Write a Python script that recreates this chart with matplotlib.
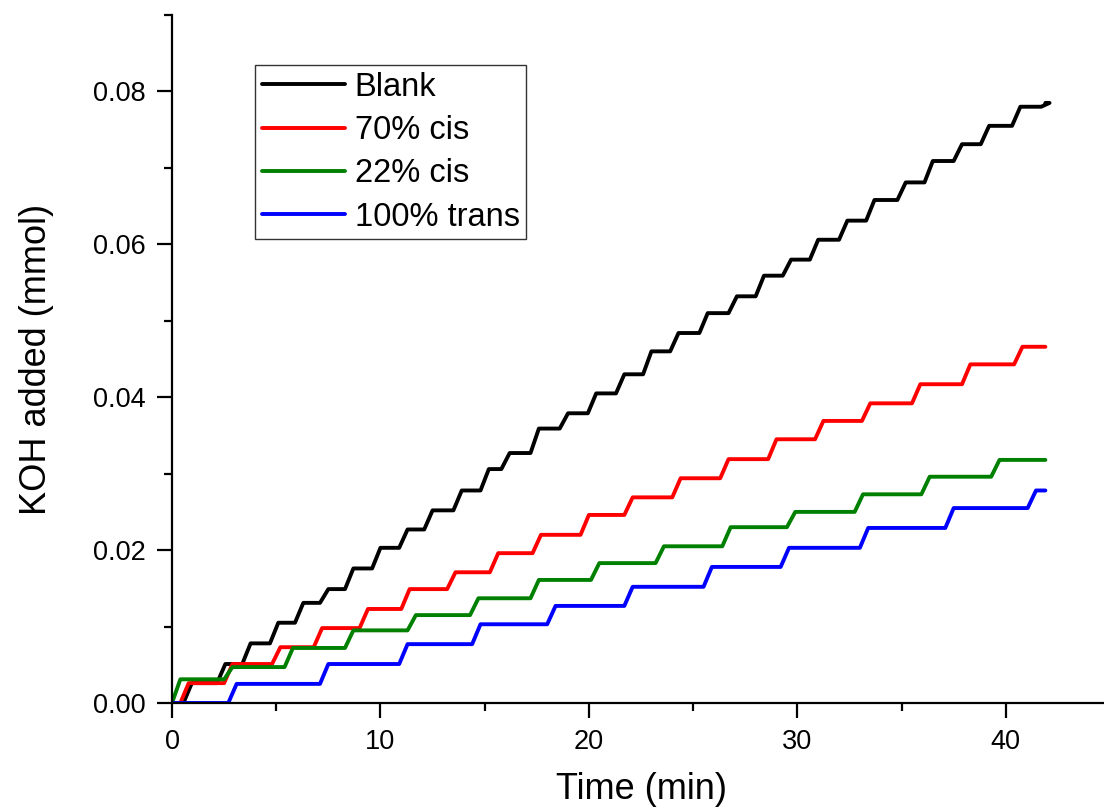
import matplotlib
matplotlib.use("Agg")
import matplotlib.pyplot as plt
from matplotlib.ticker import MultipleLocator, FormatStrFormatter

plt.rcParams['font.family'] = ['Liberation Sans', 'DejaVu Sans']

# Titrace KOH - časy skoků (min) a hladiny plató (mmol)
t_end = 41.9

blank_t = [0.55, 2.16, 3.37, 4.7, 5.9, 7.1, 8.3, 9.6, 10.9, 12.1, 13.5, 14.8, 15.8, 17.2,
           18.6, 19.95, 21.3, 22.6, 23.9, 25.3, 26.7, 28.0, 29.3, 30.6, 32.0, 33.3, 34.8,
           36.1, 37.5, 38.8, 40.3, 41.7]
blank_v = [0.0026, 0.0051, 0.0078, 0.0105, 0.0131, 0.0149, 0.0176, 0.0203, 0.0227, 0.0252,
           0.0278, 0.0306, 0.0327, 0.0359, 0.0379, 0.0405, 0.0430, 0.0460, 0.0484, 0.0510,
           0.0532, 0.0559, 0.0580, 0.0606, 0.0631, 0.0658, 0.0681, 0.0709, 0.0731, 0.0755,
           0.0780, 0.0785]

cis70_t = [0.4, 2.5, 4.8, 6.8, 9.0, 11.0, 13.2, 15.25, 17.3, 19.6, 21.7, 24.0, 26.3, 28.6,
           30.85, 33.1, 35.5, 37.9, 40.4]
cis70_v = [0.0026, 0.0051, 0.0073, 0.0098, 0.0123, 0.0149, 0.0171, 0.0196, 0.0220, 0.0246,
           0.0269, 0.0294, 0.0319, 0.0345, 0.0369, 0.0392, 0.0417, 0.0443, 0.0466]

cis22_t = [0.0, 2.5, 5.4, 8.3, 11.3, 14.3, 17.2, 20.1, 23.2, 26.4, 29.5, 32.75, 35.95, 39.3]
cis22_v = [0.0031, 0.0047, 0.0072, 0.0095, 0.0115, 0.0137, 0.0161, 0.0183, 0.0205, 0.0230,
           0.0250, 0.0273, 0.0296, 0.0318]

trans_t = [2.7, 7.1, 10.9, 14.4, 18.0, 21.7, 25.5, 29.2, 33.0, 37.1, 41.05]
trans_v = [0.0025, 0.0051, 0.0077, 0.0103, 0.0127, 0.0152, 0.0178, 0.0203, 0.0229, 0.0255,
           0.0278]

labels = ['Blank', '70% cis', '22% cis', '100% trans']
colors = ['black', 'red', 'green', 'blue']


def staircase(times, levels, ramp=0.4):
    xs, ys = [0.0], [0.0]
    prev = 0.0
    for t, v in zip(times, levels):
        xs += [t, t + ramp]
        ys += [prev, v]
        prev = v
    xs.append(t_end)
    ys.append(prev)
    return xs, ys


fig = plt.figure(figsize=(11.04, 8.11), dpi=100)
ax = fig.add_axes([172 / 1104, 1 - 703 / 811, 938 / 1104, 688 / 811])

series = [(blank_t, blank_v), (cis70_t, cis70_v), (cis22_t, cis22_v), (trans_t, trans_v)]
for (t, v), lab, c in zip(series, labels, colors):
    x, y = staircase(t, v)
    ax.plot(x, y, color=c, lw=2.8, label=lab, solid_joinstyle='round',
            solid_capstyle='round')

ax.set_xlim(0, 45)
ax.set_ylim(0, 0.09)
ax.xaxis.set_major_locator(MultipleLocator(10))
ax.xaxis.set_minor_locator(MultipleLocator(5))
ax.yaxis.set_major_locator(MultipleLocator(0.02))
ax.yaxis.set_minor_locator(MultipleLocator(0.01))
ax.yaxis.set_major_formatter(FormatStrFormatter('%.2f'))

for s in ['top', 'right']:
    ax.spines[s].set_visible(False)
for s in ['left', 'bottom']:
    ax.spines[s].set_linewidth(1.6)

ax.tick_params(which='major', direction='out', length=11, width=1.6, labelsize=19.5, pad=8)
ax.tick_params(which='minor', direction='out', length=6, width=1.6)

ax.set_xlabel('Time (min)', fontsize=26, labelpad=12)
ax.set_ylabel('KOH added (mmol)', fontsize=26, labelpad=28)

leg = ax.legend(loc='upper left', bbox_to_anchor=(255 / 1104, 1 - 65 / 811),
                bbox_transform=fig.transFigure, fontsize=23.5, frameon=True,
                fancybox=False, edgecolor='black', handlelength=2.55, handletextpad=0.3,
                labelspacing=0.38, borderpad=0.2, borderaxespad=0)
leg.get_frame().set_linewidth(1.0)
for line in leg.get_lines():
    line.set_linewidth(2.8)

fig.savefig('out.png', dpi=100)
